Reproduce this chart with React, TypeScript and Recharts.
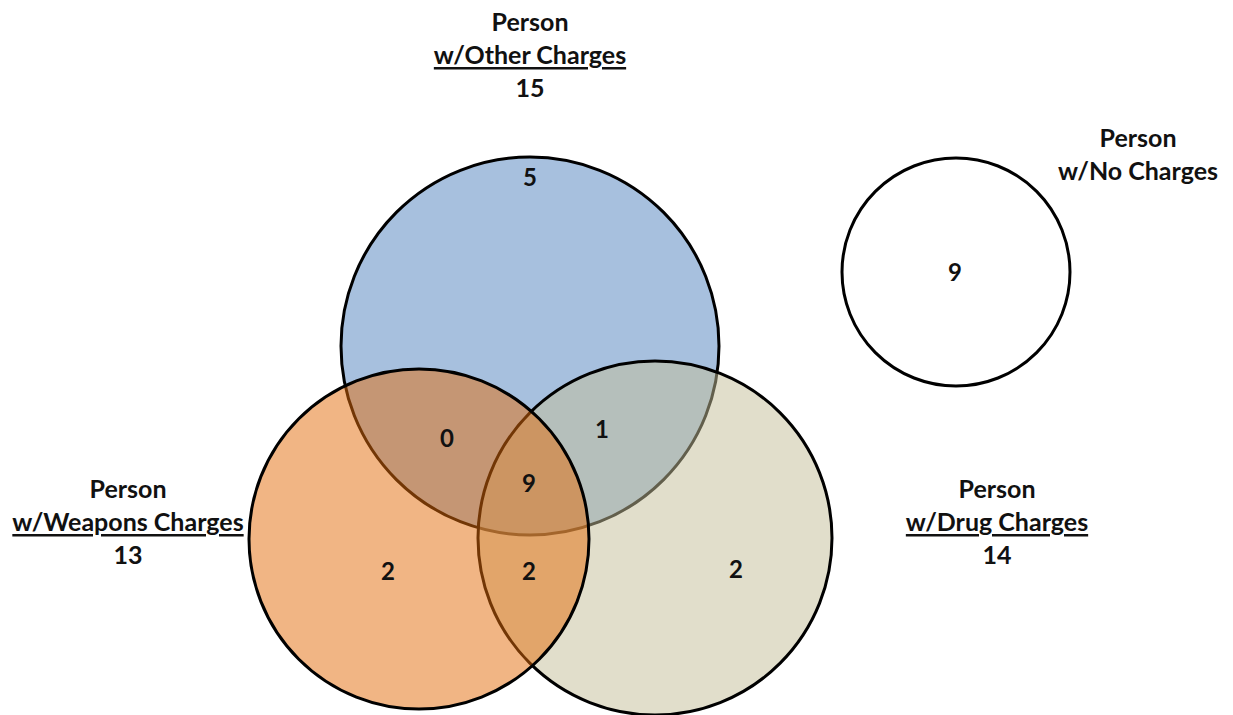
import { ScatterChart, Scatter, XAxis, YAxis, ZAxis, Cell } from 'recharts';

const W = 1233;
const H = 715;

// sets, in drawing order (bottom to top)
const setNames = ['Other Charges', 'Drug Charges', 'Weapons Charges', 'No Charges'];
const setTotals = ['15', '14', '13', ''];
const setColors = ['#4F81BD', '#C4BD97', '#E46C0A', '#FFFFFF'];

// circle layout in diagram units (1 unit = 1px)
const circleX = [530, 655, 419, 956];
const circleY = [346, 538, 539, 272];
const circleR = [189, 177, 170, 114];

// where each set's title block sits (first line)
const titleX = [530, 997, 128, 1138];
const titleY = [21, 488, 488, 137];

// region counts
const regionCounts = ['5', '0', '1', '9', '2', '2', '2', '9'];
const regionX = [530, 447, 602, 529, 388, 529, 736, 955];
const regionY = [176, 437, 428, 482, 570, 570, 568, 271];

const FONT = 'Lato, "Open Sans", sans-serif';
const LINE = 33;

const circles = circleX.map((x, i) => ({
    name: setNames[i],
    x,
    y: circleY[i],
    area: Math.PI * circleR[i] * circleR[i],
}));
const maxArea = Math.max(...circles.map((c) => c.area));

const titleLines = setNames.flatMap((name, i) => {
    const lines = [
        { x: titleX[i], y: titleY[i], text: 'Person', underline: false },
        { x: titleX[i], y: titleY[i] + LINE, text: `w/${name}`, underline: setTotals[i] !== '' },
    ];
    if (setTotals[i] !== '') lines.push({ x: titleX[i], y: titleY[i] + LINE * 2, text: setTotals[i], underline: false });
    return lines;
});

const regions = regionCounts.map((text, i) => ({ x: regionX[i], y: regionY[i], text }));

const CircleShape = (props: any) => {
    const { cx, cy, width, fill } = props;
    return (
        <circle cx={cx} cy={cy} r={width / 2} fill={fill} fillOpacity={0.5} stroke="#000" strokeWidth={3} />
    );
};

const TitleShape = (props: any) => {
    const { cx, cy, payload } = props;
    return (
        <text
            x={cx}
            y={cy}
            textAnchor="middle"
            dominantBaseline="central"
            fontFamily={FONT}
            fontWeight={700}
            fontSize={25}
            fill="#111"
            textDecoration={payload.underline ? 'underline' : undefined}
        >
            {payload.text}
        </text>
    );
};

const RegionShape = (props: any) => {
    const { cx, cy, payload } = props;
    return (
        <text x={cx} y={cy} textAnchor="middle" dominantBaseline="central" fontFamily={FONT} fontWeight={700} fontSize={24} fill="#111">
            {payload.text}
        </text>
    );
};

export default function App() {
    return (
        <div style={{ position: 'absolute', left: 0, top: 0, background: '#fff' }}>
            <ScatterChart width={W} height={H} margin={{ top: 0, right: 0, bottom: 0, left: 0 }}>
                <XAxis type="number" dataKey="x" domain={[0, W]} hide />
                <YAxis type="number" dataKey="y" domain={[0, H]} reversed hide />
                <ZAxis type="number" dataKey="area" domain={[0, maxArea]} range={[0, maxArea]} />
                <Scatter data={circles} shape={<CircleShape />} isAnimationActive={false}>
                    {circles.map((c, i) => (
                        <Cell key={`c-${i}`} fill={setColors[i]} />
                    ))}
                </Scatter>
                <Scatter data={titleLines} shape={<TitleShape />} isAnimationActive={false} />
                <Scatter data={regions} shape={<RegionShape />} isAnimationActive={false} />
            </ScatterChart>
        </div>
    );
}
